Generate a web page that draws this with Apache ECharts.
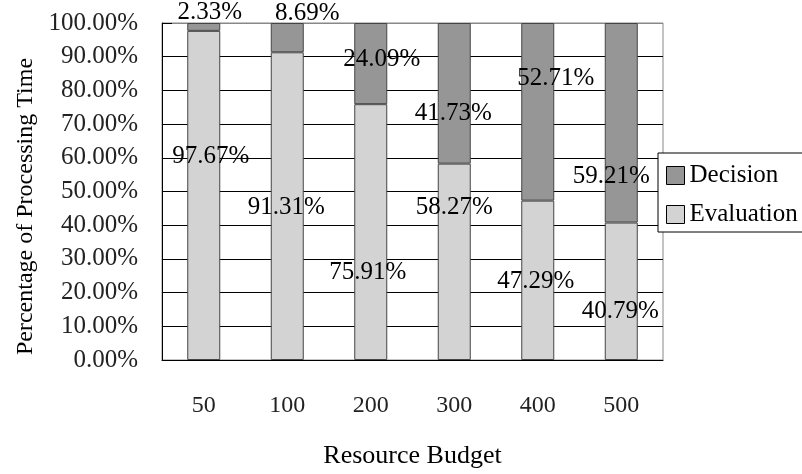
<!DOCTYPE html>
<html>
<head>
<meta charset="utf-8">
<script src="https://cdn.jsdelivr.net/npm/echarts@6/dist/echarts.min.js"></script>
<style>
  html, body { margin: 0; padding: 0; background: #fff; }
  #main { width: 802px; height: 474px; }
</style>
</head>
<body>
<div id="main"></div>
<script>
    var budgets = ['50', '100', '200', '300', '400', '500'];
    var evaluation = [97.67, 91.31, 75.91, 58.27, 47.29, 40.79];
    var decision = [2.33, 8.69, 24.09, 41.73, 52.71, 59.21];

    // label nudges (px) so the text sits where the original put it
    var evalShift = [[7, -39], [-1, 1], [-3, 40], [0, -54], [-2, 1], [-1, 20]];
    var decShift = [[6, -14], [20, -24], [11, -4], [-1, 20], [18, -33], [-10, 54]];

    var fontName = '"Liberation Serif", "Times New Roman", serif';

    function withLabels(vals, shift) {
        return vals.map(function (v, i) {
            return { value: v, label: { offset: shift[i] } };
        });
    }

    // top gridline is grey, the rest black
    var gridColors = [];
    for (var i = 0; i < 10; i++) gridColors.push('#000');
    gridColors.push('#888');

    var myChart = echarts.init(document.getElementById('main'));
    var option = {
        backgroundColor: '#fff',
        animation: false,
        grid: {
            left: 162,
            right: 139,
            top: 23,
            bottom: 113,
            show: true,
            borderColor: '#888',
            borderWidth: 1
        },
        legend: {
            orient: 'vertical',
            left: 658,
            top: 153,
            data: ['Decision', 'Evaluation'],
            itemWidth: 18,
            itemHeight: 18,
            itemGap: 14,
            padding: [10, 8, 5, 8],
            borderColor: '#000',
            borderWidth: 1,
            backgroundColor: '#fff',
            icon: 'rect',
            itemStyle: { borderColor: '#000', borderWidth: 1 },
            textStyle: { fontFamily: fontName, fontSize: 25, color: '#000' }
        },
        xAxis: {
            type: 'category',
            data: budgets,
            name: 'Resource Budget',
            nameLocation: 'middle',
            nameGap: 83,
            nameTextStyle: { fontFamily: fontName, fontSize: 26, color: '#000' },
            axisLine: { lineStyle: { color: '#000', width: 1 } },
            axisTick: { inside: true, length: 9, lineStyle: { color: '#000' } },
            axisLabel: { margin: 34, fontFamily: fontName, fontSize: 24, color: '#222' }
        },
        yAxis: {
            type: 'value',
            min: 0,
            max: 100,
            interval: 10,
            name: 'Percentage of Processing Time',
            nameLocation: 'middle',
            nameGap: 116,
            nameTextStyle: { fontFamily: fontName, fontSize: 24, color: '#000', padding: [0, 30, 0, 0] },
            axisLine: { show: true, lineStyle: { color: '#000', width: 1 } },
            axisTick: { show: true, inside: true, length: 10, lineStyle: { color: '#000' } },
            splitLine: { lineStyle: { color: gridColors, width: 1 } },
            axisLabel: {
                margin: 24,
                fontFamily: fontName,
                fontSize: 25,
                color: '#222',
                formatter: function (v) { return v.toFixed(2) + '%'; }
            }
        },
        series: [
            {
                name: 'Evaluation',
                type: 'bar',
                stack: 'total',
                barWidth: 33,
                data: withLabels(evaluation, evalShift),
                itemStyle: { color: '#d3d3d3', borderColor: '#444', borderWidth: 1 },
                label: {
                    show: true,
                    position: 'inside',
                    fontFamily: fontName,
                    fontSize: 25,
                    color: '#000',
                    formatter: function (p) { return p.value.toFixed(2) + '%'; }
                }
            },
            {
                name: 'Decision',
                type: 'bar',
                stack: 'total',
                barWidth: 33,
                data: withLabels(decision, decShift),
                itemStyle: { color: '#969696', borderColor: '#444', borderWidth: 1 },
                label: {
                    show: true,
                    position: 'inside',
                    fontFamily: fontName,
                    fontSize: 25,
                    color: '#000',
                    formatter: function (p) { return p.value.toFixed(2) + '%'; }
                }
            }
        ]
    };
    myChart.setOption(option);
</script>
</body>
</html>
